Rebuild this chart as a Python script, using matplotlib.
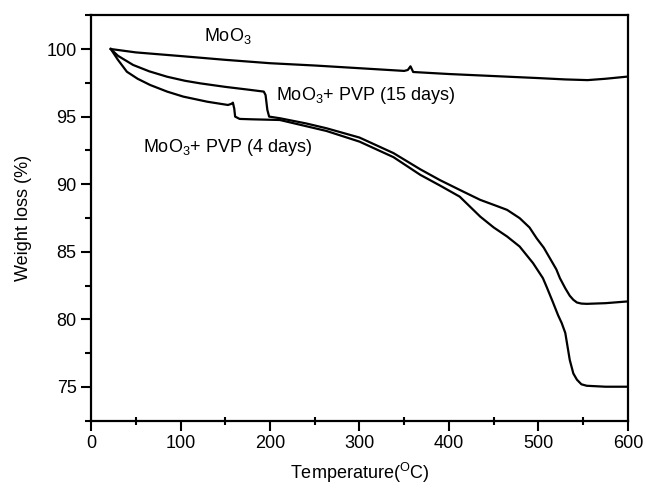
import numpy as np
import matplotlib
matplotlib.use('Agg')
import matplotlib.pyplot as plt
from matplotlib.ticker import MultipleLocator

plt.rcParams['font.family'] = ['Liberation Sans', 'DejaVu Sans']
plt.rcParams['mathtext.fontset'] = 'custom'
plt.rcParams['mathtext.rm'] = 'Liberation Sans'
plt.rcParams['mathtext.it'] = 'Liberation Sans'

# TGA curves
moo3_t = [22, 50, 100, 150, 200, 250, 300, 350, 354, 357, 360, 400, 450, 500, 530, 555, 575, 598]
moo3_w = [100.0, 99.75, 99.48, 99.2, 98.95, 98.78, 98.58, 98.38, 98.45, 98.72, 98.3, 98.15, 98.0,
          97.85, 97.75, 97.7, 97.8, 97.95]

pvp15_t = [22, 30, 47, 65, 85, 105, 122, 150, 175, 193, 195, 197, 199, 211, 240, 263, 300, 338,
           368, 390, 416, 435, 455, 465, 479, 490, 498, 506, 513, 520, 524, 530, 535, 539, 543,
           548, 554, 575, 598]
pvp15_w = [100.0, 99.5, 98.82, 98.35, 97.95, 97.65, 97.46, 97.2, 97.0, 96.85, 96.6, 95.5, 95.0,
           94.88, 94.5, 94.14, 93.45, 92.3, 91.1, 90.3, 89.45, 88.84, 88.35, 88.1, 87.49, 86.8,
           86.0, 85.3, 84.5, 83.7, 83.05, 82.3, 81.75, 81.45, 81.25, 81.17, 81.15, 81.2, 81.32]

pvp4_t = [22, 30, 40, 52, 66, 85, 103, 130, 153, 157, 158.5, 160, 161, 166, 180, 211, 263, 300,
          338, 368, 390, 412, 435, 450, 465, 479, 494, 505, 509, 516, 522, 526, 530, 535, 539,
          543, 548, 554, 575, 598]
pvp4_w = [100.0, 99.2, 98.32, 97.8, 97.34, 96.85, 96.48, 96.1, 95.86, 95.95, 96.03, 95.6, 95.0,
          94.83, 94.8, 94.75, 93.94, 93.15, 92.0, 90.69, 89.9, 89.08, 87.6, 86.8, 86.13, 85.39,
          84.16, 83.05, 82.43, 81.3, 80.3, 79.73, 79.0, 77.0, 76.0, 75.54, 75.2, 75.09, 75.02,
          75.02]

fig = plt.figure(figsize=(6.46, 4.91), dpi=100)
ax = fig.add_subplot(111)
fig.subplots_adjust(left=0.141, right=0.972, top=0.969, bottom=0.143)

for t, w in [(moo3_t, moo3_w), (pvp15_t, pvp15_w), (pvp4_t, pvp4_w)]:
    ax.plot(t, w, color='black', lw=1.6, solid_joinstyle='round')

ax.text(126, 100.6, r'MoO$_3$', fontsize=13)
ax.text(207, 96.23, r'MoO$_3$+ PVP (15 days)', fontsize=13)
ax.text(58, 92.41, r'MoO$_3$+ PVP (4 days)', fontsize=13)

ax.set_xlim(0, 600)
ax.set_ylim(72.5, 102.5)
ax.xaxis.set_major_locator(MultipleLocator(100))
ax.xaxis.set_minor_locator(MultipleLocator(50))
ax.yaxis.set_major_locator(MultipleLocator(5))
ax.yaxis.set_minor_locator(MultipleLocator(2.5))

ax.tick_params(axis='both', which='major', direction='out', length=7, width=1.5,
               labelsize=13, colors='black')
ax.tick_params(axis='both', which='minor', direction='out', length=4, width=1.5)
ax.tick_params(axis='x', which='minor', direction='inout', length=6)
for s in ax.spines.values():
    s.set_linewidth(1.6)

ax.set_xlabel(r'Temperature($^{\mathrm{O}}$C)', fontsize=13, labelpad=6)
ax.set_ylabel('Weight loss (%)', fontsize=13, labelpad=10)

fig.savefig('out.png', dpi=100)
